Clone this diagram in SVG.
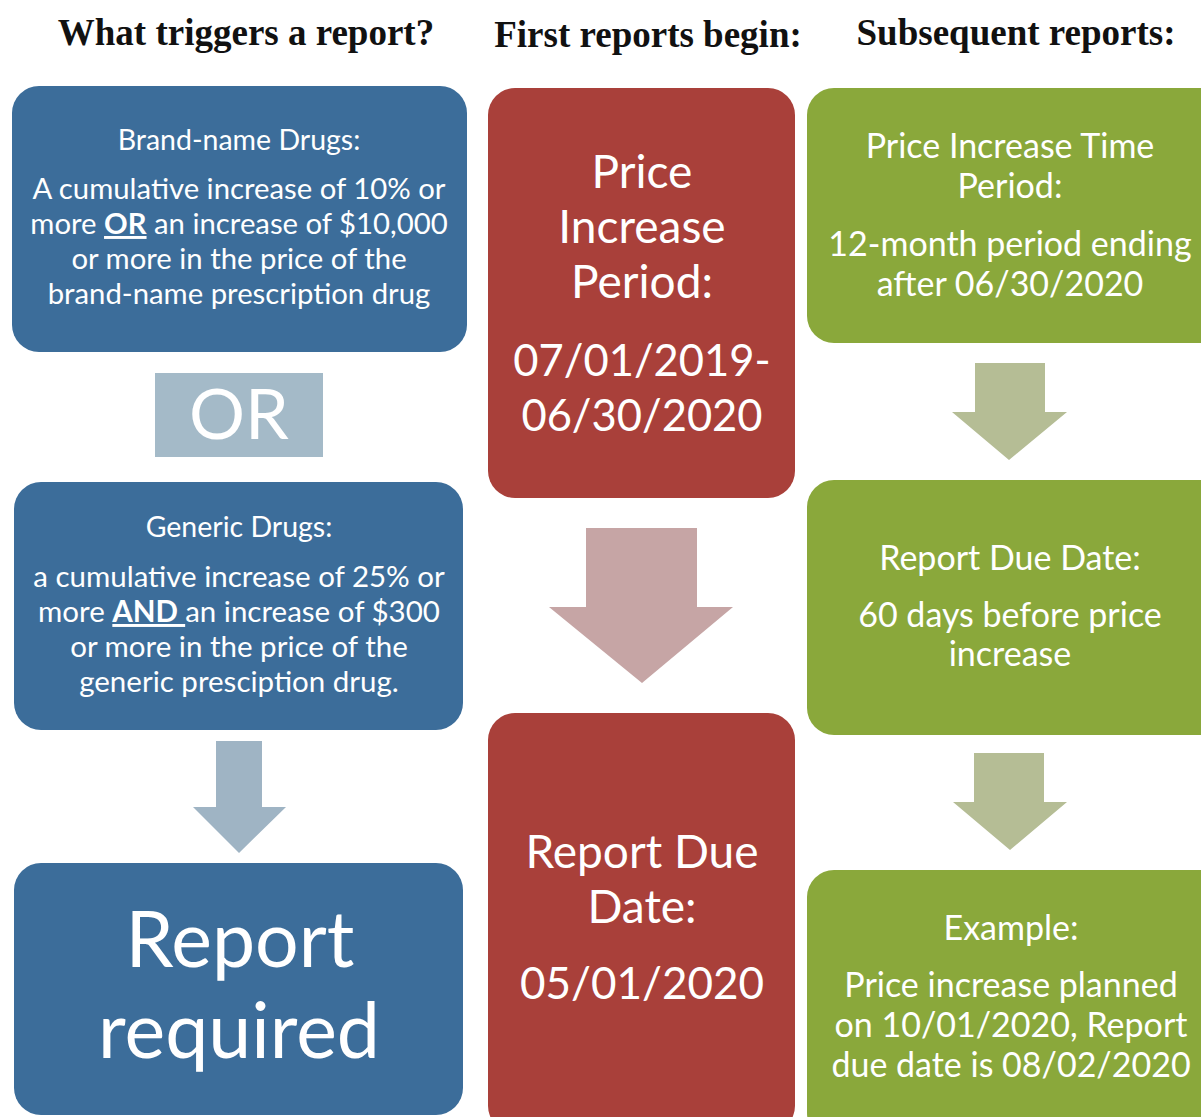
<svg xmlns="http://www.w3.org/2000/svg" width="1201" height="1117" viewBox="0 0 1201 1117">
<style>
.hdr{font-family:"Liberation Serif","Times New Roman",serif;font-weight:bold;font-size:37px;fill:#111;text-anchor:middle}
.t{font-family:Lato,"Open Sans",sans-serif;fill:#ffffff;text-anchor:middle}
.blue{fill:#3c6d9a}
.red{fill:#a9403a}
.green{fill:#8aa83b}
.ab{fill:#9fb4c4}
.ar{fill:#c6a5a5}
.ag{fill:#b5bd95}
</style>
<rect width="1201" height="1117" fill="#ffffff"/>
<g id="headers">
<text class="hdr" x="246" y="45">What triggers a report?</text>
<text class="hdr" x="648" y="47">First reports begin:</text>
<text class="hdr" x="1016" y="45">Subsequent reports:</text>
</g>
<g id="connectors">
<polygon class="ab" points="216,741 262,741 262,807 286,807 239,853 193,807 216,807"/>
<polygon class="ar" points="586,528 697,528 697,607 733,607 642,683 549,607 586,607"/>
<polygon class="ag" points="975,363 1045,363 1045,412 1067,412 1009,460 952,412 975,412"/>
<polygon class="ag" points="974,753 1044,753 1044,802 1067,802 1010,850 953,802 974,802"/>
</g>
<g id="brand">
<rect class="blue" x="12" y="86" width="455" height="266" rx="27"/>
<text class="t" x="239" y="150" font-size="28.5">Brand-name Drugs:</text>
<text class="t" x="239" y="199" font-size="29.3">A cumulative increase of 10% or</text>
<text class="t" x="239" y="234" font-size="29.3">more <tspan font-weight="bold" text-decoration="underline">OR</tspan> an increase of $10,000</text>
<text class="t" x="239" y="269" font-size="29.3">or more in the price of the</text>
<text class="t" x="239" y="304" font-size="29.3">brand-name prescription drug</text>
</g>
<g id="or">
<rect x="155" y="373" width="168" height="84" fill="#a4bac8"/>
<text class="t" x="239" y="439" font-size="70">OR</text>
</g>
<g id="generic">
<rect class="blue" x="14" y="482" width="449" height="248" rx="27"/>
<text class="t" x="239" y="537" font-size="28.5">Generic Drugs:</text>
<text class="t" x="239" y="587" font-size="29.5">a cumulative increase of 25% or</text>
<text class="t" x="239" y="622" font-size="29.5">more <tspan font-weight="bold" text-decoration="underline">AND </tspan> an increase of $300</text>
<text class="t" x="239" y="657" font-size="29.5">or more in the price of the</text>
<text class="t" x="239" y="692" font-size="29.5">generic presciption drug.</text>
</g>
<g id="required">
<rect class="blue" x="14" y="863" width="449" height="252" rx="27"/>
<text class="t" x="240" y="967" font-size="77">Report</text>
<text class="t" x="239" y="1058" font-size="77">required</text>
</g>
<g id="first-period">
<rect class="red" x="488" y="88" width="307" height="410" rx="27"/>
<text class="t" x="642" y="188" font-size="46">Price</text>
<text class="t" x="642" y="243" font-size="46">Increase</text>
<text class="t" x="642" y="298" font-size="46">Period:</text>
<text class="t" x="642" y="376" font-size="43.5">07/01/2019-</text>
<text class="t" x="642" y="431" font-size="43.5">06/30/2020</text>
</g>
<g id="first-due">
<rect class="red" x="488" y="713" width="307" height="420" rx="27"/>
<text class="t" x="642" y="868" font-size="46">Report Due</text>
<text class="t" x="642" y="923" font-size="46">Date:</text>
<text class="t" x="642" y="999" font-size="44">05/01/2020</text>
</g>
<g id="sub-period">
<rect class="green" x="807" y="88" width="420" height="255" rx="27"/>
<text class="t" x="1010" y="158" font-size="34">Price Increase Time</text>
<text class="t" x="1010" y="198" font-size="34">Period:</text>
<text class="t" x="1010" y="256" font-size="34">12-month period ending</text>
<text class="t" x="1010" y="296" font-size="34">after 06/30/2020</text>
</g>
<g id="sub-due">
<rect class="green" x="807" y="480" width="420" height="255" rx="27"/>
<text class="t" x="1010" y="570" font-size="34">Report Due Date:</text>
<text class="t" x="1010" y="627" font-size="34">60 days before price</text>
<text class="t" x="1010" y="666" font-size="34">increase</text>
</g>
<g id="sub-example">
<rect class="green" x="807" y="870" width="420" height="270" rx="27"/>
<text class="t" x="1011" y="940" font-size="34">Example:</text>
<text class="t" x="1011" y="997" font-size="34">Price increase planned</text>
<text class="t" x="1011" y="1037" font-size="34">on 10/01/2020, Report</text>
<text class="t" x="1011" y="1077" font-size="34">due date is 08/02/2020</text>
</g>
</svg>
